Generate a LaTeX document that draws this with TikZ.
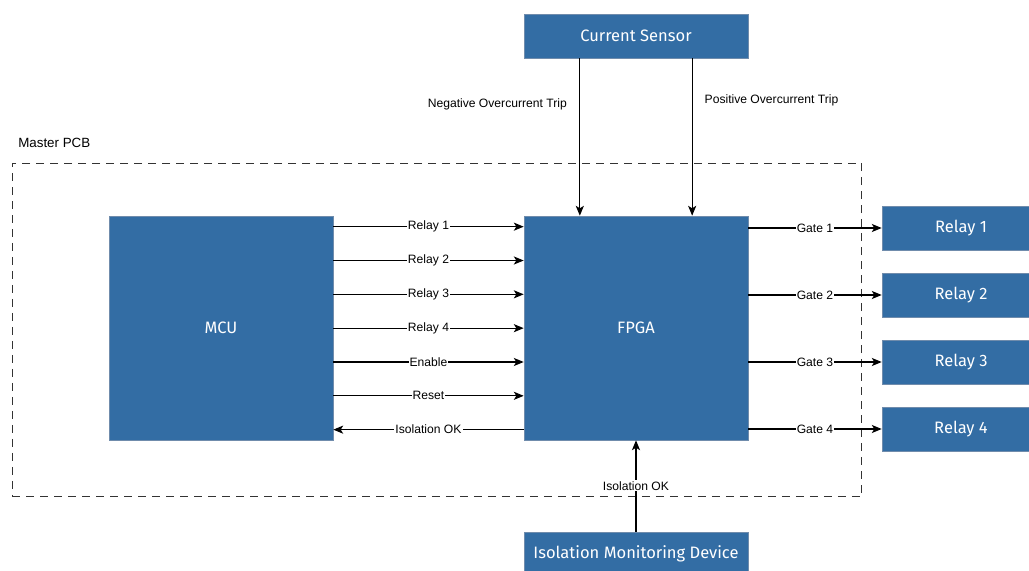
\documentclass[tikz,border=0pt]{standalone}
\usepackage{fontspec}
\setmainfont{Liberation Sans}
\newfontfamily\blockfont{Fira Sans}
\usetikzlibrary{calc}
\usetikzlibrary{positioning}
\usetikzlibrary{arrows.meta}
\definecolor{pcbblue}{RGB}{51,109,164}
\definecolor{pcbedge}{RGB}{112,140,172}

\begin{document}
\begin{tikzpicture}[x=0.02cm,y=-0.02cm]
  \tikzstyle{block}=[draw=pcbedge,fill=pcbblue,text=white,inner sep=0pt,
    font=\blockfont\fontsize{9.4}{11}\selectfont]
  \tikzstyle{sig}=[-{Stealth[length=5.6pt,width=4.6pt,inset=1.4pt]},line width=0.6pt]
  \tikzstyle{lbl}=[fill=white,inner sep=0.6pt,font=\fontsize{6.9}{8}\selectfont]
  \useasboundingbox (0,0) rectangle (1029,571);

  % board outline
  \node[draw=black!80,dashed,dash pattern=on 0.16cm off 0.12cm,line width=0.55pt,
    minimum width=17cm,minimum height=6.68cm,
    label={[anchor=south west,xshift=0.01cm,yshift=0.17cm,font=\fontsize{7.6}{9}\selectfont]north west:Master PCB}]
    (pcb) at (437,330) {};

  % blocks
  \node[block,minimum width=4.48cm,minimum height=4.48cm] (mcu) at (221,328) {MCU};
  \node[block,minimum width=4.48cm,minimum height=4.48cm] (fpga) at (636,328) {FPGA};
  \node[block,minimum width=4.48cm,minimum height=0.88cm] (cs) at (636,36) {Current Sensor};
  \node[block,minimum width=4.48cm,minimum height=0.88cm] (imd) at (636,554) {Isolation Monitoring Device};
  \foreach \n/\y in {1/228,2/295,3/362,4/429}
    \node[block,minimum width=3.16cm,minimum height=0.88cm] (relay\n) at (961,\y) {Relay \n};

  % MCU -> FPGA
  \foreach \i in {0,...,6}
    \path ($(mcu.north east)+(0,{11+\i*33.83})$) coordinate (m\i);
  \foreach \i/\txt in {0/Relay 1,1/Relay 2,2/Relay 3,3/Relay 4,4/Enable,5/Reset}
    \draw[sig] (m\i) -- (m\i -| fpga.west) node[lbl,midway] {\txt};
  \draw[sig] (m6 -| fpga.west) -- (m6) node[lbl,midway] {Isolation OK};

  % FPGA -> relays
  \foreach \n in {1,...,4}
    \draw[sig] (fpga.east |- relay\n.west) -- (relay\n.west) node[lbl,midway] {Gate \n};

  % current sensor trips
  \coordinate (neg) at ($(cs.south west)!0.25!(cs.south east)$);
  \coordinate (pos) at ($(cs.south west)!0.75!(cs.south east)$);
  \draw[sig] (neg) -- (neg |- fpga.north)
    node[pos=0.29,left=0.25cm,font=\fontsize{6.9}{8}\selectfont,inner sep=0pt] {Negative Overcurrent Trip};
  \draw[sig] (pos) -- (pos |- fpga.north)
    node[pos=0.27,right=0.24cm,font=\fontsize{6.9}{8}\selectfont,inner sep=0pt] {Positive Overcurrent Trip};

  % isolation monitor
  \draw[sig] (imd.north) -- (fpga.south) node[lbl,midway] {Isolation OK};
\end{tikzpicture}
\end{document}
